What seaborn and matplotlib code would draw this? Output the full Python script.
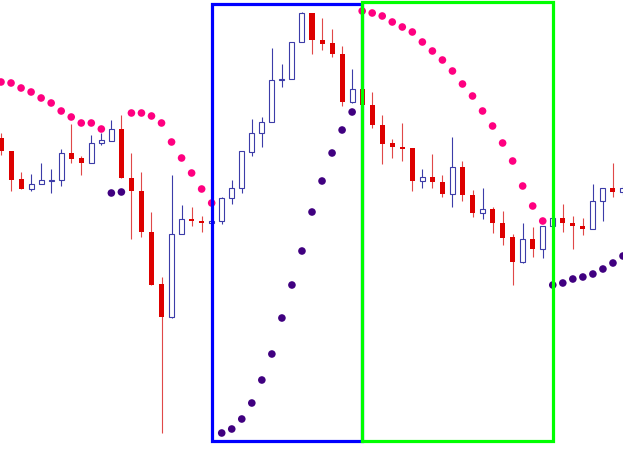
import numpy as np
import pandas as pd
import seaborn as sns
from matplotlib import pyplot as plt
from matplotlib.patches import Rectangle

# candle values (price units), one entry per bar
opens = [313, 300, 272, 262, 267, 270, 271, 298, 293, 288, 308, 310, 322, 273, 260, 219,
         167, 134, 217, 232, 230, 228, 230, 253, 263, 299, 318, 329, 371, 372, 409, 438,
         411, 408, 397, 349, 362, 346, 326, 308, 304, 303, 270, 274, 269, 257, 284, 256,
         238, 242, 228, 214, 189, 212, 202, 225, 233, 228, 225, 222, 250, 263, 259]
highs = [318, 300, 279, 277, 288, 282, 302, 327, 295, 316, 318, 331, 336, 298, 279, 239,
         174, 276, 246, 244, 235, 233, 254, 271, 300, 332, 334, 403, 387, 409, 439, 438,
         433, 422, 405, 382, 364, 359, 336, 312, 328, 303, 282, 297, 276, 314, 290, 261,
         263, 244, 240, 217, 228, 224, 225, 247, 247, 235, 233, 267, 263, 288, 266]
lows = [296, 260, 262, 260, 267, 258, 265, 288, 276, 288, 306, 310, 273, 212, 214, 166,
        18, 133, 217, 225, 219, 226, 227, 247, 258, 295, 304, 329, 364, 372, 409, 397,
        401, 394, 345, 348, 323, 323, 287, 293, 290, 260, 263, 263, 254, 244, 250, 234,
        232, 218, 206, 166, 188, 194, 193, 215, 219, 202, 216, 222, 230, 254, 256]
closes = [300, 271, 262, 267, 271, 271, 298, 292, 288, 308, 311, 322, 273, 260, 219, 166,
          134, 217, 232, 230, 228, 230, 253, 263, 300, 318, 329, 371, 372, 409, 438, 411,
          407, 397, 349, 362, 346, 326, 307, 304, 302, 270, 274, 269, 257, 284, 256, 238,
          242, 228, 213, 189, 212, 202, 225, 233, 228, 225, 222, 250, 263, 259, 263]

# parabolic SAR
sar = [369, 368, 363, 359, 353, 348, 340, 334, 328, 328, 322, 258, 259, 338, 338, 335,
       328, 309, 293, 278, 262, 248, 18, 22, 32, 48, 71, 97, 133, 166, 200, 239,
       270, 298, 321, 339, 440, 438, 435, 429, 424, 419, 409, 400, 391, 380, 367, 355,
       340, 325, 308, 290, 265, 245, 230, 166, 168, 172, 174, 177, 182, 188, 195]

# highlighted ranges (bar index from, to)
blue_box = (21, 36)
green_box = (36, 55)
box_low, box_high = 10, 448

df = pd.DataFrame({'open': opens, 'high': highs, 'low': lows, 'close': closes, 'sar': sar})
df['i'] = np.arange(len(df))
df['up'] = df['close'] >= df['open']
df['trend'] = np.where(df['sar'] < df['low'], 'up', 'down')

sns.set_style('white')
fig = plt.figure(figsize=(6.23, 4.51), dpi=100)
ax = fig.add_axes([0, 0, 1, 1])

red = '#DD0000'
navy = '#3C3CA8'
up = df[df['up']]
dn = df[~df['up']]

ax.vlines(dn['i'], dn['low'], dn['high'], color='#E04848', lw=0.8, zorder=2)
ax.vlines(up['i'], up['low'], up['high'], color=navy, lw=0.8, zorder=2)

h_dn = np.maximum(dn['open'] - dn['close'], 2)
ax.bar(dn['i'], h_dn, bottom=dn['close'], width=0.5, color=red, lw=0, zorder=3)
h_up = np.maximum(up['close'] - up['open'], 1.5)
ax.bar(up['i'], h_up, bottom=up['open'], width=0.5, facecolor='white',
       edgecolor=navy, lw=0.8, zorder=3)

sns.scatterplot(data=df, x='i', y='sar', hue='trend',
                palette={'up': '#400080', 'down': '#FF0080'},
                s=30, linewidth=0, legend=False, ax=ax, zorder=4)

ax.add_patch(Rectangle((blue_box[0], box_low), blue_box[1] - blue_box[0],
                       box_high - box_low - 1, fill=False, ec='#0000FF', lw=2.3, zorder=5))
ax.add_patch(Rectangle((green_box[0], box_low), green_box[1] - green_box[0],
                       box_high - box_low + 1, fill=False, ec='#00FF00', lw=2.3, zorder=6))

ax.set_xlim(-0.1, 62.0)
ax.set_ylim(0, 451)
ax.axis('off')

fig.savefig('out.png', dpi=100)
